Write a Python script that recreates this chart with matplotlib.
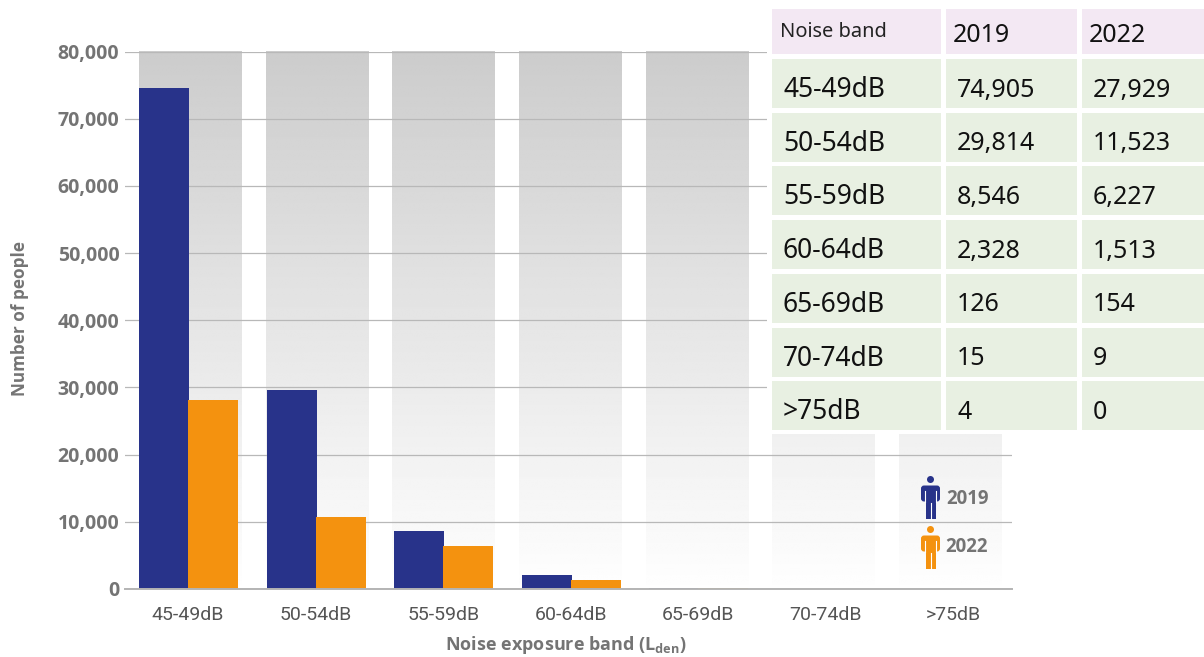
import numpy as np
import matplotlib
matplotlib.use('Agg')
import matplotlib.pyplot as plt
from matplotlib.patches import Rectangle, Circle, FancyBboxPatch

# values (the bars do not quite agree with the table)
bands = ['45-49dB', '50-54dB', '55-59dB', '60-64dB', '65-69dB', '70-74dB', '>75dB']
bars_2019 = [74600, 29600, 8600, 2100, 126, 15, 4]
bars_2022 = [28100, 10700, 6400, 1350, 154, 9, 0]
y_ticks = [0, 10000, 20000, 30000, 40000, 50000, 60000, 70000, 80000]

table_bands = ['45-49dB', '50-54dB', '55-59dB', '60-64dB', '65-69dB', '70-74dB', '>75dB']
table_2019 = [74905, 29814, 8546, 2328, 126, 15, 4]
table_2022 = [27929, 11523, 6227, 1513, 154, 9, 0]

BLUE = '#28338a'
ORANGE = '#f4920f'
GREY = '#747474'
W, H = 1204, 657
BOLD = ['Open Sans', 'DejaVu Sans']

plt.rcParams['font.family'] = ['Noto Sans', 'DejaVu Sans']
plt.rcParams['mathtext.fontset'] = 'custom'
plt.rcParams['mathtext.bf'] = 'Open Sans:bold'
plt.rcParams['mathtext.rm'] = 'Open Sans:bold'

fig = plt.figure(figsize=(W / 100, H / 100), dpi=100)

# pixel space layer behind the chart, for the grey gradient columns
back = fig.add_axes([0, 0, 1, 1], zorder=0)
back.axis('off')
grad = np.linspace(0.80, 1.0, 256).reshape(-1, 1)
for i in range(len(bands)):
    x0 = 139 + 126.67 * i
    back.imshow(grad, extent=(x0, x0 + 103, 595, 51), cmap='gray', vmin=0, vmax=1,
                aspect='auto', interpolation='bilinear')
back.set_xlim(0, W)
back.set_ylim(H, 0)

# chart
ax = fig.add_axes([125 / W, 1 - 589 / H, (1012 - 125) / W, (589 - 51.5) / H], zorder=1)
ax.patch.set_alpha(0)
x = np.arange(len(bands))
ax.bar(x - 0.188, bars_2019, 0.392, color=BLUE, zorder=3)
ax.bar(x + 0.196, bars_2022, 0.392, color=ORANGE, zorder=3)
ax.set_xlim(-0.494, 6.458)
ax.set_ylim(0, 80000)
ax.set_yticks(y_ticks)
ax.set_yticklabels([f'{v:,}' for v in y_ticks], fontsize=14, fontweight='bold', color=GREY, family=BOLD)
ax.set_xticks(x)
ax.set_xticklabels(bands, fontsize=14, color='#555555', family=['Roboto', 'DejaVu Sans'])
ax.tick_params(axis='both', length=0)
ax.tick_params(axis='y', pad=4)
ax.tick_params(axis='x', pad=12)
ax.grid(axis='y', color='#b8b8b8', linewidth=0.9, zorder=1)
ax.set_axisbelow(True)
for s in ['top', 'right', 'left']:
    ax.spines[s].set_visible(False)
ax.spines['bottom'].set_color('#b4b4b4')
ax.spines['bottom'].set_linewidth(1.4)
ax.spines['bottom'].set_zorder(4)

# pixel space layer in front: table and legend
top = fig.add_axes([0, 0, 1, 1], zorder=2)
top.set_xlim(0, W)
top.set_ylim(H, 0)
top.axis('off')
top.add_patch(Rectangle((767, 0), W - 767, 434, color='white', lw=0))

col_x = [(772, 941), (946, 1077), (1082, 1204)]
for (x0, x1) in col_x:
    top.add_patch(Rectangle((x0, 9), x1 - x0, 45, color='#f3e8f3', lw=0))
top.text(780, 32, 'Noise band', fontsize=14.4, color='#222222', va='center')
top.text(953, 36, '2019', fontsize=18, color='#111111', va='center')
top.text(1089, 36, '2022', fontsize=18, color='#111111', va='center')
for r, (b, a, c) in enumerate(zip(table_bands, table_2019, table_2022)):
    y0 = 59 + 53.7 * r
    for (x0, x1) in col_x:
        top.add_patch(Rectangle((x0, y0), x1 - x0, 49, color='#e8f0e2', lw=0))
    yc = y0 + 31
    top.text(783, yc, b, fontsize=19, color='#111111', va='center')
    top.text(957, yc, f'{a:,}', fontsize=18, color='#111111', va='center')
    top.text(1093, yc, f'{c:,}', fontsize=18, color='#111111', va='center')


def person(cx, y, color):
    top.add_patch(Circle((cx, y + 3.5), 3.5, color=color, lw=0))
    top.add_patch(FancyBboxPatch((cx - 9.5, y + 9.5), 19, 16, boxstyle='round,pad=0,rounding_size=3', color=color, lw=0))
    top.add_patch(Rectangle((cx - 5, y + 10), 10, 32.5, color=color, lw=0))
    top.plot([cx, cx], [y + 27, y + 43], color='white', lw=0.8)
    top.plot([cx - 5.5, cx - 5.5], [y + 15, y + 26], color='white', lw=0.8)
    top.plot([cx + 5.5, cx + 5.5], [y + 15, y + 26], color='white', lw=0.8)


person(930.5, 476, BLUE)
person(930.5, 526, ORANGE)
top.text(946, 499.5, '2019', fontsize=13.4, fontweight='bold', color=GREY, va='center', family=BOLD)
top.text(945, 546.5, '2022', fontsize=13.4, fontweight='bold', color=GREY, va='center', family=BOLD)

top.text(20, 319, 'Number of people', rotation=90, fontsize=12.3, fontweight='bold',
         color=GREY, ha='center', va='center', family=BOLD)
top.text(566, 645, r'Noise exposure band (L$_{\mathbf{den}}$)', fontsize=13, fontweight='bold',
         color=GREY, ha='center', va='center', family=BOLD)

fig.savefig('out.png', dpi=100)
